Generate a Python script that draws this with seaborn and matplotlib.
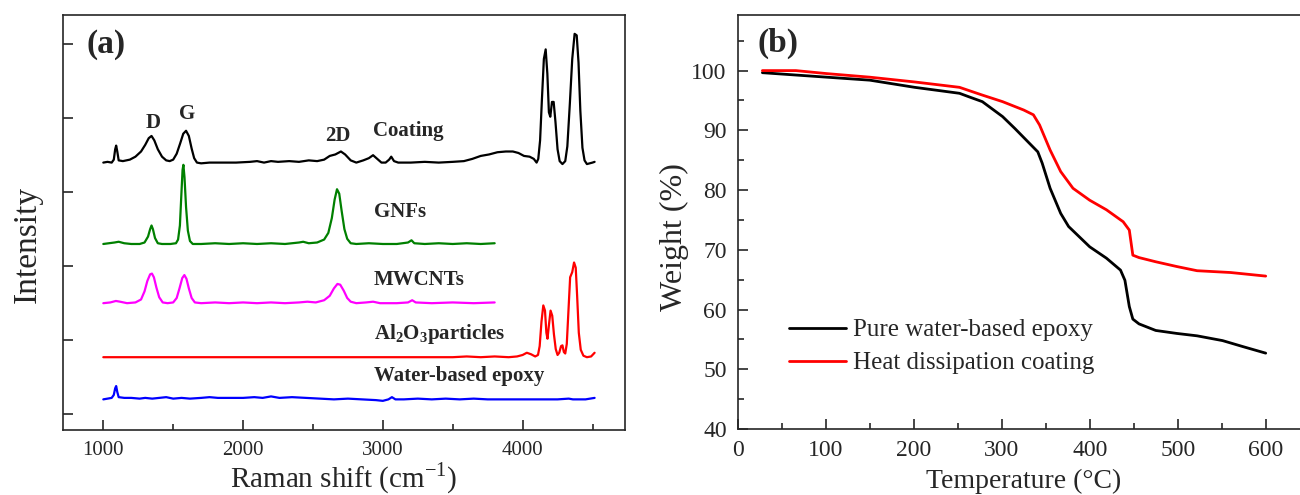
import numpy as np
import pandas as pd
import matplotlib
matplotlib.use("Agg")
import matplotlib.pyplot as plt
from matplotlib.ticker import MultipleLocator, NullFormatter
import seaborn as sns

# ---- (a) Raman spectra, stacked with offsets ----
coating_pts = [
    (1000, 3.40), (1030, 3.41), (1060, 3.40), (1075, 3.44), (1085, 3.58), (1092, 3.63),
    (1100, 3.55), (1110, 3.43), (1140, 3.42), (1190, 3.44), (1230, 3.48), (1270, 3.55),
    (1300, 3.64), (1325, 3.73), (1345, 3.76), (1365, 3.70), (1390, 3.58), (1420, 3.48),
    (1450, 3.43), (1475, 3.42), (1500, 3.44), (1525, 3.52), (1550, 3.66), (1572, 3.79),
    (1592, 3.83), (1612, 3.76), (1632, 3.59), (1650, 3.46), (1670, 3.40), (1700, 3.39),
    (1760, 3.40), (1850, 3.40), (1950, 3.40), (2050, 3.41), (2100, 3.42), (2150, 3.40),
    (2200, 3.42), (2250, 3.41), (2330, 3.42), (2400, 3.41), (2470, 3.43), (2530, 3.42),
    (2580, 3.44), (2620, 3.49), (2660, 3.51), (2700, 3.55), (2730, 3.51), (2770, 3.43),
    (2810, 3.40), (2860, 3.43), (2900, 3.46), (2930, 3.50), (2960, 3.45), (2990, 3.40),
    (3020, 3.40), (3045, 3.44), (3060, 3.48), (3080, 3.42), (3110, 3.40), (3200, 3.40),
    (3300, 3.41), (3400, 3.40), (3500, 3.41), (3580, 3.42), (3640, 3.45), (3700, 3.49),
    (3760, 3.51), (3820, 3.54), (3880, 3.55), (3930, 3.55), (3970, 3.53), (4010, 3.49),
    (4050, 3.48), (4080, 3.45), (4100, 3.40), (4112, 3.45), (4125, 3.70), (4138, 4.25),
    (4152, 4.80), (4165, 4.93), (4177, 4.60), (4188, 4.08), (4198, 4.02), (4210, 4.22),
    (4222, 4.22), (4235, 3.95), (4250, 3.58), (4265, 3.42), (4285, 3.38), (4305, 3.42),
    (4320, 3.62), (4338, 4.20), (4355, 4.80), (4372, 5.14), (4387, 5.12), (4400, 4.75),
    (4413, 4.10), (4428, 3.60), (4443, 3.43), (4460, 3.38), (4480, 3.39), (4500, 3.40),
    (4515, 3.41),
]
gnfs_pts = [
    (1000, 2.30), (1040, 2.31), (1080, 2.32), (1110, 2.33), (1150, 2.31), (1200, 2.30),
    (1260, 2.30), (1295, 2.32), (1320, 2.40), (1335, 2.50), (1345, 2.55), (1355, 2.50),
    (1370, 2.38), (1390, 2.31), (1420, 2.30), (1480, 2.30), (1520, 2.31), (1535, 2.36),
    (1548, 2.55), (1558, 2.95), (1567, 3.30), (1573, 3.37), (1581, 3.20), (1592, 2.80),
    (1605, 2.48), (1620, 2.34), (1640, 2.30), (1700, 2.30), (1800, 2.31), (1900, 2.30),
    (2000, 2.31), (2100, 2.30), (2200, 2.31), (2300, 2.30), (2400, 2.32), (2430, 2.33),
    (2470, 2.31), (2530, 2.32), (2580, 2.36), (2610, 2.45), (2635, 2.65), (2655, 2.90),
    (2672, 3.04), (2688, 2.98), (2705, 2.75), (2725, 2.50), (2745, 2.37), (2770, 2.31),
    (2810, 2.30), (2900, 2.31), (3000, 2.30), (3100, 2.30), (3180, 2.32), (3205, 2.35),
    (3225, 2.31), (3300, 2.30), (3400, 2.31), (3500, 2.30), (3600, 2.31), (3700, 2.30),
    (3800, 2.31),
]
mwcnts_pts = [
    (1000, 1.50), (1050, 1.51), (1090, 1.53), (1120, 1.52), (1170, 1.50), (1230, 1.51),
    (1270, 1.55), (1295, 1.66), (1315, 1.80), (1335, 1.89), (1348, 1.90), (1362, 1.85),
    (1380, 1.71), (1400, 1.58), (1425, 1.51), (1460, 1.50), (1500, 1.51), (1525, 1.57),
    (1545, 1.70), (1565, 1.84), (1580, 1.88), (1595, 1.83), (1612, 1.70), (1632, 1.57),
    (1655, 1.51), (1700, 1.50), (1800, 1.51), (1900, 1.50), (2000, 1.51), (2100, 1.50),
    (2200, 1.51), (2300, 1.50), (2400, 1.51), (2460, 1.52), (2520, 1.51), (2580, 1.54),
    (2620, 1.60), (2650, 1.70), (2675, 1.76), (2695, 1.75), (2720, 1.67), (2745, 1.57),
    (2770, 1.52), (2810, 1.50), (2880, 1.51), (2930, 1.52), (2980, 1.50), (3100, 1.50),
    (3180, 1.51), (3210, 1.54), (3235, 1.51), (3350, 1.50), (3500, 1.51), (3650, 1.50),
    (3800, 1.51),
]
al2o3_pts = [
    (1000, 0.77), (1500, 0.77), (2000, 0.77), (2500, 0.77), (3000, 0.77), (3500, 0.77),
    (3600, 0.78), (3700, 0.77), (3800, 0.78), (3900, 0.77), (3960, 0.78), (4000, 0.80),
    (4030, 0.83), (4060, 0.81), (4090, 0.78), (4110, 0.80), (4122, 0.92), (4135, 1.25),
    (4148, 1.47), (4160, 1.40), (4170, 1.10), (4178, 1.02), (4188, 1.20), (4200, 1.40),
    (4212, 1.33), (4224, 1.08), (4237, 0.88), (4250, 0.80), (4262, 0.83), (4275, 0.92),
    (4285, 0.93), (4295, 0.84), (4305, 0.82), (4316, 0.95), (4328, 1.40), (4340, 1.85),
    (4355, 1.92), (4368, 2.05), (4380, 1.98), (4390, 1.60), (4402, 1.10), (4416, 0.87),
    (4435, 0.79), (4460, 0.77), (4490, 0.78), (4515, 0.83),
]
epoxy_pts = [
    (1000, 0.20), (1030, 0.21), (1060, 0.22), (1075, 0.26), (1085, 0.35), (1092, 0.38),
    (1100, 0.30), (1110, 0.23), (1150, 0.22), (1200, 0.22), (1260, 0.21), (1300, 0.22),
    (1350, 0.21), (1400, 0.22), (1450, 0.23), (1500, 0.21), (1560, 0.22), (1620, 0.21),
    (1700, 0.22), (1760, 0.23), (1820, 0.22), (1900, 0.22), (2000, 0.22), (2080, 0.23),
    (2140, 0.22), (2200, 0.24), (2260, 0.22), (2350, 0.23), (2450, 0.22), (2550, 0.21),
    (2650, 0.20), (2750, 0.21), (2850, 0.20), (2950, 0.19), (3000, 0.18), (3040, 0.20),
    (3065, 0.23), (3090, 0.20), (3150, 0.20), (3250, 0.21), (3350, 0.20), (3450, 0.21),
    (3550, 0.20), (3650, 0.21), (3750, 0.20), (3850, 0.20), (3950, 0.20), (4050, 0.20),
    (4150, 0.20), (4250, 0.20), (4330, 0.21), (4360, 0.20), (4450, 0.20), (4515, 0.22),
]

raman_series = ["Coating", "GNFs", "MWCNTs", "Al2O3", "Water-based epoxy"]
raman_colors = ["#000000", "#008000", "#ff00ff", "#ff0000", "#0000ff"]
raman_points = [coating_pts, gnfs_pts, mwcnts_pts, al2o3_pts, epoxy_pts]

# curve labels (text, x, y) in data units of panel (a)
raman_labels = [
    ("Coating", 2930, 3.83),
    ("GNFs", 2935, 2.73),
    ("MWCNTs", 2935, 1.82),
    (r"Al$_\mathbf{2}$O$_\mathbf{3}$particles", 2935, 1.09),
    ("Water-based epoxy", 2935, 0.52),
]
peak_labels = [("D", 1360, 3.94), ("G", 1597, 4.05), ("2D", 2676, 3.76)]

# ---- (b) TGA curves ----
epoxy_temp = [28, 101, 150, 201, 252, 263, 278, 301, 315, 341, 346, 355, 367, 376,
              400, 419, 435, 440, 445, 449, 456, 475, 499, 522, 551, 574, 600]
epoxy_weight = [99.65, 98.9, 98.4, 97.2, 96.2, 95.6, 94.8, 92.3, 90.3, 86.4, 84.5, 80.3,
                76.1, 73.9, 70.5, 68.6, 66.6, 64.9, 60.5, 58.4, 57.6, 56.5, 56.0, 55.6,
                54.8, 53.8, 52.7]
coating_temp = [28, 66, 101, 150, 201, 252, 278, 301, 325, 336, 343, 355, 367, 381,
                400, 419, 438, 445, 449, 456, 475, 499, 522, 560, 600]
coating_weight = [100.0, 100.0, 99.5, 98.9, 98.1, 97.2, 95.9, 94.8, 93.4, 92.6, 90.9,
                  86.7, 83.1, 80.3, 78.3, 76.7, 74.7, 73.3, 69.1, 68.7, 68.0, 67.2,
                  66.5, 66.2, 65.6]

sns.set_theme(style="ticks")
plt.rcParams["font.family"] = ["Liberation Serif", "DejaVu Serif"]
plt.rcParams["mathtext.fontset"] = "custom"
plt.rcParams["mathtext.rm"] = "Liberation Serif"
plt.rcParams["mathtext.bf"] = "Liberation Serif:bold"
plt.rcParams["axes.linewidth"] = 1.2
plt.rcParams["xtick.direction"] = "in"
plt.rcParams["ytick.direction"] = "in"

fig = plt.figure(figsize=(13, 4.95), dpi=100)
ax1 = fig.add_axes([0.0485, 0.131, 0.432, 0.838])
ax2 = fig.add_axes([0.5675, 0.1333, 0.4738, 0.8363])

# ---- panel (a) ----
for name, color, pts in zip(raman_series, raman_colors, raman_points):
    df = pd.DataFrame(pts, columns=["shift", "intensity"])
    sns.lineplot(data=df, x="shift", y="intensity", ax=ax1, color=color,
                 lw=1.6, estimator=None, sort=False)

for text, x, y in raman_labels:
    ax1.text(x, y, text, fontsize=15, fontweight="bold", va="center", ha="left")
for text, x, y in peak_labels:
    ax1.text(x, y, text, fontsize=15, fontweight="bold", va="center", ha="center")
ax1.text(0.041, 0.93, "(a)", transform=ax1.transAxes, fontsize=24,
         fontweight="bold", va="center", ha="left")

ax1.set_xlim(712, 4730)
ax1.set_ylim(-0.216, 5.39)
ax1.xaxis.set_major_locator(MultipleLocator(1000))
ax1.xaxis.set_minor_locator(MultipleLocator(500))
ax1.yaxis.set_major_locator(MultipleLocator(1))
ax1.yaxis.set_major_formatter(NullFormatter())
ax1.tick_params(axis="x", which="major", length=7, width=1.2, labelsize=15, pad=8)
ax1.tick_params(axis="x", which="minor", length=4, width=1.2)
ax1.tick_params(axis="y", which="major", length=7, width=1.2)
ax1.set_xlabel(r"Raman shift (cm$^{-1}$)", fontsize=21, va="top")
ax1.xaxis.set_label_coords(0.5, -0.0735)
ax1.set_ylabel("Intensity", fontsize=24)
ax1.yaxis.set_label_coords(-0.037, 0.448)

# ---- panel (b) ----
tga = pd.concat([
    pd.DataFrame({"T": epoxy_temp, "W": epoxy_weight, "sample": "Pure water-based epoxy"}),
    pd.DataFrame({"T": coating_temp, "W": coating_weight, "sample": "Heat dissipation coating"}),
])
sns.lineplot(data=tga, x="T", y="W", hue="sample", ax=ax2, lw=2.0,
             palette=["#000000", "#ff0000"], estimator=None, sort=False)

ax2.text(22, 104.5, "(b)", fontsize=24, fontweight="bold", va="center", ha="left")
ax2.set_xlim(0, 700)
ax2.set_ylim(40, 109.3)
ax2.xaxis.set_major_locator(MultipleLocator(100))
ax2.xaxis.set_minor_locator(MultipleLocator(50))
ax2.yaxis.set_major_locator(MultipleLocator(10))
ax2.yaxis.set_minor_locator(MultipleLocator(5))
ax2.set_xticks([0, 100, 200, 300, 400, 500, 600])
ax2.set_yticks([40, 50, 60, 70, 80, 90, 100])
ax2.tick_params(which="major", length=7, width=1.2, labelsize=17, pad=8)
ax2.tick_params(which="minor", length=4, width=1.2)
ax2.set_xlabel("Temperature (\u00b0C)", fontsize=20, va="top")
ax2.xaxis.set_label_coords(0.464, -0.0966)
ax2.set_ylabel("Weight (%)", fontsize=23)
ax2.yaxis.set_label_coords(-0.0795, 0.4626)

leg = ax2.legend(loc="lower left", bbox_to_anchor=(0.083, 0.132), frameon=False,
                 fontsize=18, handlelength=2.3, handletextpad=0.25,
                 labelspacing=0.42, borderpad=0, borderaxespad=0)
for line in leg.get_lines():
    line.set_linewidth(2.0)

fig.savefig("out.png", dpi=100)
